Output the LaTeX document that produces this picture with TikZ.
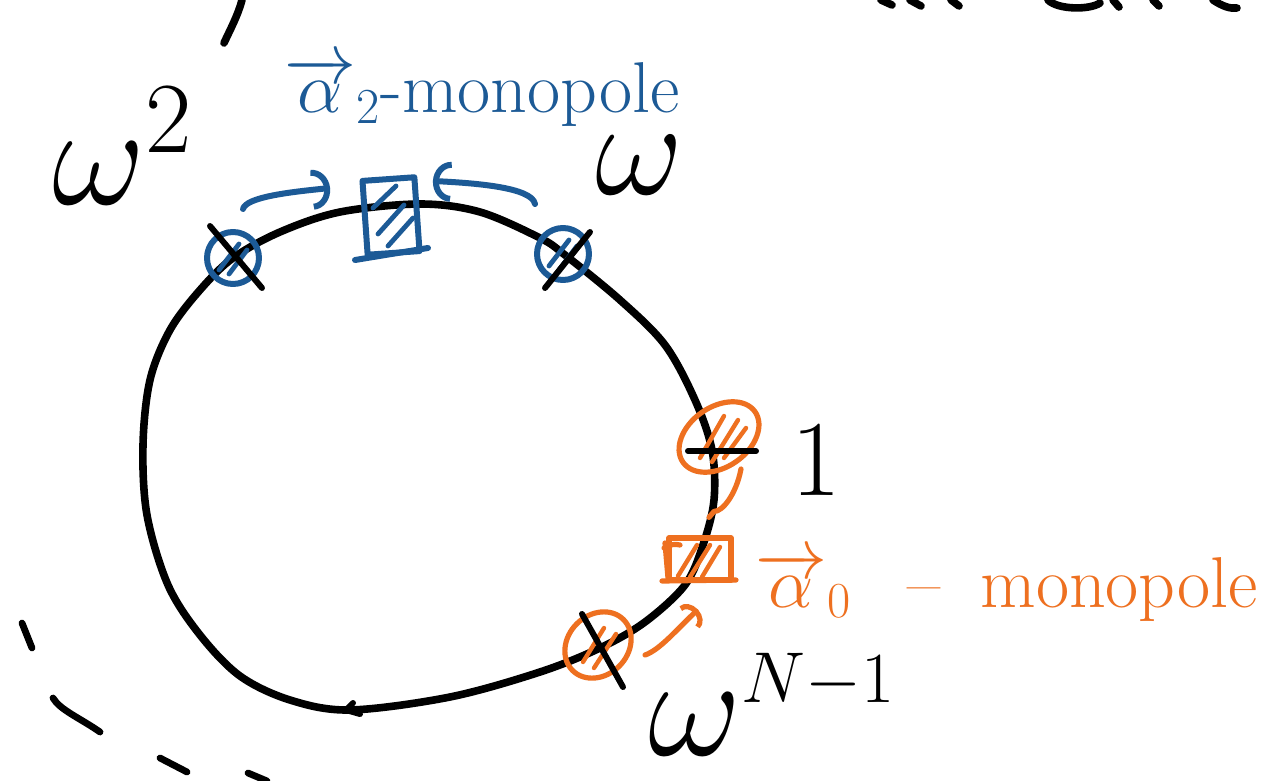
\RequirePackage{fix-cm}
\documentclass[tikz,border=0pt]{standalone}
\usepackage{fontspec}
\usetikzlibrary{arrows.meta,calc,shapes.geometric}
\definecolor{pblue}{RGB}{28,90,150}
\definecolor{porange}{RGB}{238,112,32}
\begin{document}
\begin{tikzpicture}[x=0.5pt,y=-0.5pt, line cap=round, line join=round,
  ink/.style={draw=black, line width=3.8pt},
  tick/.style={draw=black, line width=3pt},
  bink/.style={draw=pblue, line width=3pt},
  oink/.style={draw=porange, line width=2.6pt},
  bhatch/.style={draw=pblue, line width=2.4pt},
  ohatch/.style={draw=porange, line width=2.2pt},
  bmark/.style={circle, bink, minimum size=26pt, inner sep=0pt},
  omark/.style={ellipse, oink, inner sep=0pt},
  bboxst/.style={rectangle, bink, inner sep=0pt},
  oboxst/.style={rectangle, oink, inner sep=0pt},
  barrow/.style={bink, -{Arc Barb[length=9pt,width=20pt]}},
  oarrow/.style={oink, -{Arc Barb[length=6pt,width=15pt]}},
  lab/.style={text=black, inner sep=0pt},
]
\fill[white] (0,0) rectangle (1266,781);
\useasboundingbox (0,0) rectangle (1266,781);

% cut-off strokes at the top edge
\draw[ink] (242,0) .. controls (238,15) and (231,28) .. (224,43);
\draw[ink] (881,0) -- (892,5);
\draw[ink] (910,0) -- (921,6);
\draw[ink] (951,0) -- (959,6);
\draw[ink] (1048,0) .. controls (1058,10) and (1090,10) .. (1100,3);
\draw[ink] (1113,0) -- (1119,7);
\draw[ink] (1153,0) -- (1159,6);
\draw[ink] (1213,0) .. controls (1222,6) and (1230,9) .. (1237,8);

% dashed outer arc fragments
\draw[ink, line width=3.4pt] (22,623) -- (32,648);
\draw[ink, line width=3.4pt] (53,698) .. controls (60,710) and (80,718) .. (100,732);
\draw[ink, line width=3.4pt] (160,758) -- (187,772);
\draw[ink, line width=3.4pt] (248,773) -- (267,781);

% main loop
\draw[ink] plot[smooth cycle, tension=0.55] coordinates {(233,258) (280,232) (340,212) (420,204) (480,212) (540,238) (565,255) (620,300) (665,345) (695,400) (712,450) (714,500) (703,545) (685,585) (645,622) (600,648) (540,672) (450,697) (350,710) (290,700) (240,676) (200,635) (168,585) (147,515) (143,445) (150,380) (170,330) (200,290)};
\draw[ink, line width=3pt] (353,703) -- (346,710) -- (360,714);

% blue markers
\node[bmark] (m2) at (233,258) {};
\node[bmark] (m1) at (563,254) {};
\draw[bhatch] ($(m2)+(-14,12)$) -- ($(m2)+(6,-14)$) ($(m2)+(-4,16)$) -- ($(m2)+(14,-8)$);
\draw[bhatch] ($(m1)+(-14,12)$) -- ($(m1)+(6,-14)$) ($(m1)+(-4,16)$) -- ($(m1)+(14,-8)$);
\node[bboxst, minimum width=26pt, minimum height=37pt, rotate=4] (bb) at (391,216) {};
\draw[bink] (355,260) -- (428,248);
\draw[bhatch] (373,208) -- (396,186) (378,234) -- (404,205) (388,246) -- (413,218);

% orange markers
\node[omark, minimum width=44pt, minimum height=30pt, rotate=35] (o1) at (719,437) {};
\node[omark, minimum width=36pt, minimum height=30pt, rotate=45] (o0) at (598,645) {};
\node[oboxst, minimum width=31pt, minimum height=21pt] (ob) at (700,559) {};
\draw[oink] (662,581) -- (736,580);
\draw[oink] (665,543) -- (668,578) (664,548) .. controls (670,544) and (676,544) .. (680,545);
\draw[ohatch] (678,576) -- (697,545) (690,577) -- (710,545) (702,577) -- (720,547);
\draw[ohatch] (700,458) -- (724,416) (712,462) -- (738,420) (724,458) -- (746,428);
\draw[ohatch] (583,662) -- (604,628) (594,668) -- (616,634);

% ticks on the loop
\draw[tick] (210,226) -- (262,288);
\draw[tick] (590,232) -- (545,288);
\draw[tick] (688,451) -- (756,451);
\draw[tick] (582,614) -- (623,687);

% blue connectors
\draw[barrow] ($(m2.north)+(10,-20)$) .. controls +(3,-12) and +(-40,4) .. ($(bb.west)+(-32,-30)$);
\draw[barrow] ($(m1.north)+(-28,-21)$) .. controls +(-3,-17) and +(40,2) .. ($(bb.east)+(13,-33)$);

% orange connectors
\draw[oink] ($(o1)+(22,32)$) .. controls (736,495) and (722,512) .. ($(ob.north)+(14,-24)$) -- ($(ob.north)+(9,-18)$);
\draw[oarrow] ($(o0)+(47,10)$) .. controls (660,650) and (678,628) .. ($(ob.south)+(-2,27)$);

% labels
\node[lab, anchor=base west, font=\fontsize{72}{80}\selectfont] (w2) at (52,205) {$\omega^2$};
\node[lab, anchor=base west, font=\fontsize{68}{76}\selectfont] (w1) at (595,195) {$\omega$};
\node[lab, anchor=base west, font=\fontsize{72}{80}\selectfont] (wn) at (648,755) {$\omega^{\scriptscriptstyle N-1}$};
\node[lab, anchor=base, font=\fontsize{54}{60}\selectfont] (one) at (816,495) {$1$};
\node[lab, text=pblue, anchor=base west, font=\fontsize{36}{40}\selectfont] (a2) at (284,113) {$\overrightarrow{\alpha}_2$-monopole};
\node[lab, text=porange, anchor=base west, font=\fontsize{36}{40}\selectfont] (a0) at (755,607) {$\overrightarrow{\alpha}_0$\hspace{28pt}--\hspace{20pt}monopole};
\end{tikzpicture}
\end{document}
